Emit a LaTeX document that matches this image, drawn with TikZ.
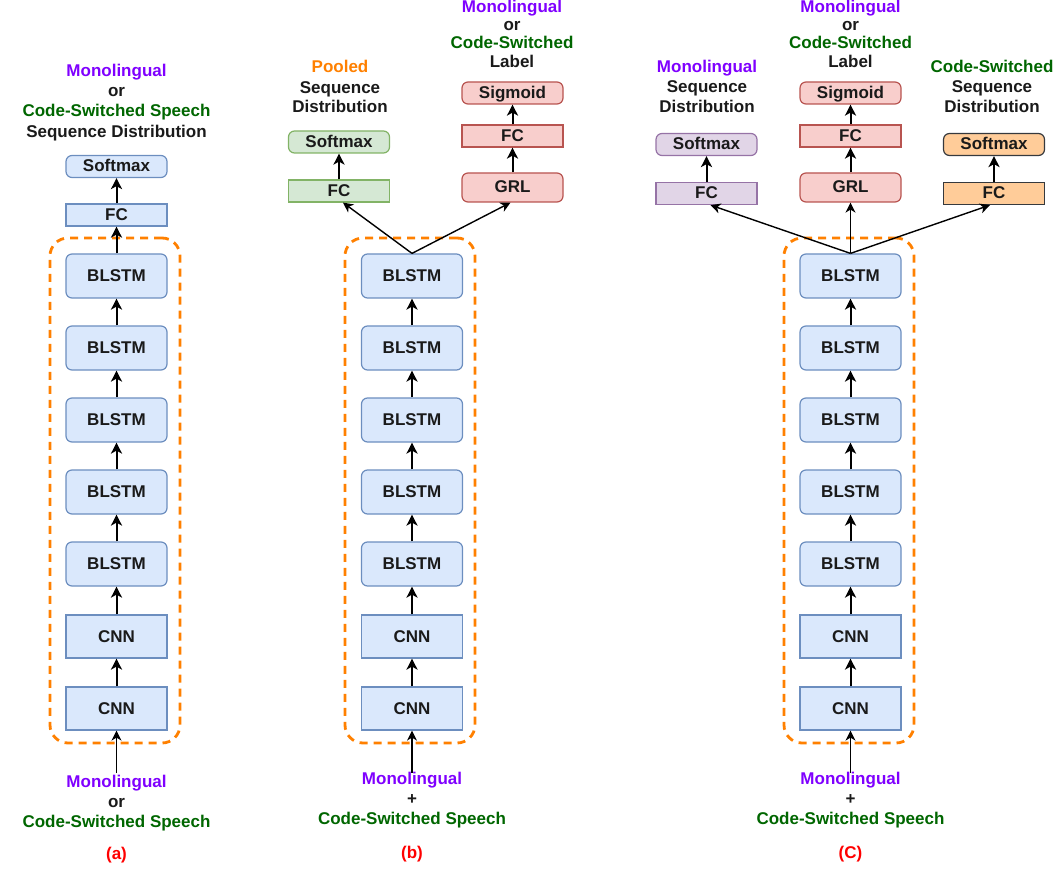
\documentclass[tikz,border=0pt]{standalone}
\usepackage{fontspec}
\setmainfont{Liberation Sans}
\usetikzlibrary{arrows.meta}
\definecolor{bfill}{HTML}{DAE8FC}\definecolor{bdraw}{HTML}{6C8EBF}
\definecolor{gfill}{HTML}{D5E8D4}\definecolor{gdraw}{HTML}{82B366}
\definecolor{rfill}{HTML}{F8CECC}\definecolor{rdraw}{HTML}{B85450}
\definecolor{pfill}{HTML}{E1D5E7}\definecolor{pdraw}{HTML}{9673A6}
\definecolor{ofill}{HTML}{FFCC99}\definecolor{odraw}{HTML}{36393D}
\definecolor{mono}{HTML}{7F00FF}\definecolor{csw}{HTML}{006600}
\definecolor{pool}{HTML}{FF8000}\definecolor{dashc}{HTML}{FF8000}
\definecolor{txt}{HTML}{1A1A1A}
\tikzset{
  every node/.style={font=\fontsize{17}{20}\selectfont\bfseries, text=txt},
  box/.style={draw=bdraw, fill=bfill, line width=1.2pt, minimum width=101, inner sep=0pt, text height=12, text depth=1},
  rbox/.style={box, rounded corners=6pt},
  lstm/.style={rbox, minimum height=44},
  cnn/.style={box, minimum height=43},
  hd/.style={box, minimum height=22},
  rhd/.style={rbox, minimum height=22},
  grn/.style={draw=gdraw, fill=gfill},
  red/.style={draw=rdraw, fill=rfill},
  pur/.style={draw=pdraw, fill=pfill},
  org/.style={draw=odraw, fill=ofill},
  dbox/.style={draw=dashc, line width=2.8pt, dash pattern=on 8pt off 6pt, rounded corners=18pt, minimum width=130, minimum height=505, inner sep=0pt},
  lbl/.style={inner sep=0pt, text height=12, text depth=3.5},
  arr/.style={line width=2pt, -{Stealth[length=11pt,width=11pt,inset=3pt]}},
  tarr/.style={line width=1.4pt, -{Stealth[length=10pt,width=10pt,inset=3pt]}},
}
\begin{document}
\begin{tikzpicture}[x=1pt,y=-1pt]
\useasboundingbox (0,0) rectangle (1062,874);
% ---------------- (a)
\node[dbox] (ad) at (115,490.5) {};
\foreach \i/\y in {1/276,2/348,3/420,4/492,5/564} {\node[lstm] (a\i) at (116.5,\y) {BLSTM};}
\node[cnn] (ac1) at (116.5,636.5) {CNN};
\node[cnn] (ac2) at (116.5,708.5) {CNN};
\node[hd] (afc) at (116.5,215) {FC};
\node[rhd] (asm) at (116.5,166.5) {Softmax};
\coordinate (ain) at (116.5,773);
\draw[tarr] (ain) -- (ac2.south);
\draw[arr] (ac2) -- (ac1);
\draw[arr] (ac1) -- (a5);
\draw[arr] (a5) -- (a4);
\draw[arr] (a4) -- (a3);
\draw[arr] (a3) -- (a2);
\draw[arr] (a2) -- (a1);
\draw[arr] (a1) -- (afc);
\draw[arr] (afc) -- (asm);
\node[lbl, text=mono] (at1) at (116.5,72) {Monolingual};
\node[lbl] (at2) at (116.5,92) {or};
\node[lbl, text=csw] (at3) at (116.5,112) {Code-Switched Speech};
\node[lbl] (at4) at (116.5,133) {Sequence Distribution};
\node[lbl, text=mono] (ab1) at (116.5,783) {Monolingual};
\node[lbl] (ab2) at (116.5,803) {or};
\node[lbl, text=csw] (ab3) at (116.5,823) {Code-Switched Speech};
\node[lbl, text=red] (acap) at (116.5,855) {(a)};
% ---------------- (b)
\node[dbox] (bd) at (410,490.5) {};
\foreach \i/\y in {1/276,2/348,3/420,4/492,5/564} {\node[lstm] (b\i) at (412,\y) {BLSTM};}
\node[cnn] (bc1) at (412,636.5) {CNN};
\node[cnn] (bc2) at (412,708.5) {CNN};
\coordinate (bin) at (412,773);
\draw[tarr] (bin) -- (bc2.south);
\draw[arr] (bc2) -- (bc1);
\draw[arr] (bc1) -- (b5);
\draw[arr] (b5) -- (b4);
\draw[arr] (b4) -- (b3);
\draw[arr] (b3) -- (b2);
\draw[arr] (b2) -- (b1);
\node[hd, grn] (bfc) at (339,191) {FC};
\node[rhd, grn] (bsm) at (339,142) {Softmax};
\node[rbox, red, minimum height=29] (bgrl) at (512.5,187.5) {GRL};
\node[hd, red] (bfc2) at (512.5,136) {FC};
\node[rhd, red] (bsig) at (512.5,93) {Sigmoid};
\draw[tarr] (b1.north) -- ([xshift=4pt]bfc.south);
\draw[tarr] (b1.north) -- ([xshift=-2pt]bgrl.south);
\draw[arr] (bfc) -- (bsm);
\draw[arr] (bgrl) -- (bfc2);
\draw[arr] (bfc2) -- (bsig);
\node[lbl, text=pool] (bt1) at (340,68) {Pooled};
\node[lbl] (bt2) at (340,89) {Sequence};
\node[lbl] (bt3) at (340,108) {Distribution};
\node[lbl, text=mono] (bu1) at (512,8) {Monolingual};
\node[lbl] (bu2) at (512,26) {or};
\node[lbl, text=csw] (bu3) at (512,44) {Code-Switched};
\node[lbl] (bu4) at (512,63) {Label};
\node[lbl, text=mono] (bb1) at (412,780) {Monolingual};
\node[lbl] (bb2) at (412,800) {+};
\node[lbl, text=csw] (bb3) at (412,820) {Code-Switched Speech};
\node[lbl, text=red] (bcap) at (412,854) {(b)};
% ---------------- (c)
\node[dbox] (cd) at (849,490.5) {};
\foreach \i/\y in {1/276,2/348,3/420,4/492,5/564} {\node[lstm] (c\i) at (850.5,\y) {BLSTM};}
\node[cnn] (cc1) at (850.5,636.5) {CNN};
\node[cnn] (cc2) at (850.5,708.5) {CNN};
\coordinate (cin) at (850.5,773);
\draw[tarr] (cin) -- (cc2.south);
\draw[arr] (cc2) -- (cc1);
\draw[arr] (cc1) -- (c5);
\draw[arr] (c5) -- (c4);
\draw[arr] (c4) -- (c3);
\draw[arr] (c3) -- (c2);
\draw[arr] (c2) -- (c1);
\node[hd, pur] (cpfc) at (706.5,193.5) {FC};
\node[rhd, pur] (cpsm) at (706.5,144.5) {Softmax};
\node[rbox, red, minimum height=29] (cgrl) at (850.5,187.5) {GRL};
\node[hd, red] (crfc) at (850.5,136) {FC};
\node[rhd, red] (csig) at (850.5,93) {Sigmoid};
\node[hd, org] (cofc) at (994,193.5) {FC};
\node[rhd, org] (cosm) at (994,144.5) {Softmax};
\draw[tarr] (c1.north) -- ([xshift=4pt]cpfc.south);
\draw[tarr] (c1.north) -- (cgrl.south);
\draw[tarr] (c1.north) -- ([xshift=-4pt]cofc.south);
\draw[arr] (cpfc) -- (cpsm);
\draw[arr] (cgrl) -- (crfc);
\draw[arr] (crfc) -- (csig);
\draw[arr] (cofc) -- (cosm);
\node[lbl, text=mono] (cl1) at (707,68) {Monolingual};
\node[lbl] (cl2) at (707,88) {Sequence};
\node[lbl] (cl3) at (707,108) {Distribution};
\node[lbl, text=mono] (cm1) at (850.5,8) {Monolingual};
\node[lbl] (cm2) at (850.5,26) {or};
\node[lbl, text=csw] (cm3) at (850.5,44) {Code-Switched};
\node[lbl] (cm4) at (850.5,63) {Label};
\node[lbl, text=csw] (cr1) at (992,68) {Code-Switched};
\node[lbl] (cr2) at (992,88) {Sequence};
\node[lbl] (cr3) at (992,108) {Distribution};
\node[lbl, text=mono] (cb1) at (850.5,780) {Monolingual};
\node[lbl] (cb2) at (850.5,800) {+};
\node[lbl, text=csw] (cb3) at (850.5,820) {Code-Switched Speech};
\node[lbl, text=red] (ccap) at (850.5,854) {(C)};
\end{tikzpicture}
\end{document}
